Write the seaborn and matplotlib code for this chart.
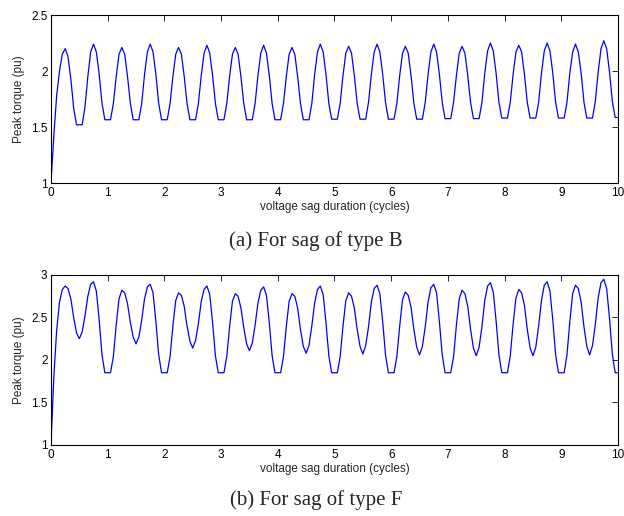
import numpy as np
import pandas as pd
import matplotlib
matplotlib.use("Agg")
import matplotlib.pyplot as plt
import seaborn as sns

sns.set_style("white")
plt.rcParams.update({
    "font.family": ["Liberation Sans", "DejaVu Sans"],
    "font.size": 8.5,
    "axes.linewidth": 0.8,
    "xtick.direction": "in",
    "ytick.direction": "in",
    "xtick.top": True,
    "ytick.right": True,
    "xtick.major.size": 4,
    "ytick.major.size": 4,
    "xtick.major.width": 0.6,
    "ytick.major.width": 0.6,
    "xtick.major.pad": 3,
    "ytick.major.pad": 2.5,
    "axes.edgecolor": "black",
    "xtick.color": "black",
    "ytick.color": "black",
})

# peak torque sampled every 0.05 cycle, one row per half cycle
torque_b = [
    1.00, 1.42, 1.78, 2.00, 2.15, 2.20, 2.13, 1.93, 1.67, 1.52,
    1.52, 1.52, 1.68, 1.95, 2.17, 2.24, 2.17, 1.97, 1.71, 1.565,
    1.565, 1.565, 1.71, 1.95, 2.15, 2.21, 2.15, 1.95, 1.71, 1.565,
    1.565, 1.565, 1.71, 1.97, 2.17, 2.24, 2.17, 1.97, 1.71, 1.565,
    1.565, 1.565, 1.71, 1.95, 2.15, 2.21, 2.15, 1.95, 1.71, 1.565,
    1.565, 1.565, 1.71, 1.96, 2.16, 2.23, 2.16, 1.96, 1.71, 1.565,
    1.565, 1.565, 1.71, 1.95, 2.15, 2.21, 2.15, 1.95, 1.71, 1.565,
    1.565, 1.565, 1.71, 1.96, 2.16, 2.23, 2.16, 1.96, 1.71, 1.565,
    1.565, 1.565, 1.71, 1.95, 2.15, 2.21, 2.15, 1.95, 1.71, 1.565,
    1.565, 1.565, 1.71, 1.97, 2.17, 2.24, 2.17, 1.97, 1.71, 1.57,
    1.57, 1.57, 1.71, 1.96, 2.16, 2.22, 2.16, 1.96, 1.71, 1.57,
    1.57, 1.57, 1.72, 1.97, 2.17, 2.24, 2.17, 1.97, 1.72, 1.57,
    1.57, 1.57, 1.71, 1.96, 2.16, 2.22, 2.16, 1.96, 1.71, 1.57,
    1.57, 1.57, 1.72, 1.97, 2.17, 2.24, 2.17, 1.97, 1.72, 1.575,
    1.575, 1.575, 1.72, 1.96, 2.16, 2.22, 2.16, 1.96, 1.72, 1.575,
    1.575, 1.575, 1.72, 1.98, 2.18, 2.25, 2.18, 1.98, 1.72, 1.58,
    1.58, 1.58, 1.72, 1.97, 2.17, 2.23, 2.17, 1.97, 1.72, 1.58,
    1.58, 1.58, 1.72, 1.98, 2.18, 2.25, 2.18, 1.98, 1.72, 1.58,
    1.58, 1.58, 1.72, 1.98, 2.17, 2.24, 2.17, 1.98, 1.72, 1.58,
    1.58, 1.58, 1.73, 1.99, 2.20, 2.27, 2.20, 1.99, 1.73, 1.585,
    1.585,
]

torque_f = [
    1.00, 1.80, 2.35, 2.68, 2.83, 2.87, 2.84, 2.72, 2.50, 2.32,
    2.25, 2.33, 2.52, 2.75, 2.89, 2.92, 2.81, 2.47, 2.06, 1.85,
    1.85, 1.85, 2.04, 2.41, 2.72, 2.82, 2.79, 2.66, 2.44, 2.27,
    2.19, 2.27, 2.47, 2.72, 2.86, 2.89, 2.79, 2.45, 2.06, 1.85,
    1.85, 1.85, 2.04, 2.40, 2.70, 2.79, 2.76, 2.63, 2.40, 2.22,
    2.14, 2.23, 2.43, 2.69, 2.83, 2.87, 2.77, 2.44, 2.05, 1.85,
    1.85, 1.85, 2.04, 2.39, 2.69, 2.78, 2.75, 2.61, 2.38, 2.19,
    2.11, 2.20, 2.41, 2.67, 2.82, 2.86, 2.76, 2.44, 2.05, 1.85,
    1.85, 1.85, 2.04, 2.39, 2.69, 2.78, 2.75, 2.61, 2.36, 2.16,
    2.08, 2.17, 2.40, 2.67, 2.83, 2.87, 2.77, 2.44, 2.05, 1.85,
    1.85, 1.85, 2.04, 2.40, 2.70, 2.79, 2.75, 2.61, 2.36, 2.16,
    2.07, 2.17, 2.39, 2.68, 2.84, 2.88, 2.78, 2.45, 2.06, 1.85,
    1.85, 1.85, 2.04, 2.40, 2.71, 2.80, 2.76, 2.62, 2.36, 2.15,
    2.06, 2.16, 2.39, 2.68, 2.85, 2.89, 2.79, 2.45, 2.06, 1.85,
    1.85, 1.85, 2.04, 2.41, 2.72, 2.82, 2.78, 2.63, 2.36, 2.14,
    2.05, 2.15, 2.39, 2.70, 2.87, 2.91, 2.80, 2.46, 2.06, 1.85,
    1.85, 1.85, 2.05, 2.42, 2.73, 2.83, 2.79, 2.64, 2.36, 2.14,
    2.05, 2.15, 2.40, 2.70, 2.88, 2.92, 2.81, 2.47, 2.06, 1.85,
    1.85, 1.85, 2.06, 2.45, 2.78, 2.88, 2.84, 2.68, 2.39, 2.16,
    2.06, 2.17, 2.42, 2.73, 2.91, 2.95, 2.84, 2.49, 2.07, 1.85,
    1.85,
]

sample_step = 0.05
duration = np.round(np.arange(len(torque_b)) * sample_step, 2)

x_ticks = list(range(0, 11))
y_ticks_b = [1, 1.5, 2, 2.5]
y_tick_labels_b = ["1", "1.5", "2", "2.5"]
y_ticks_f = [1, 1.5, 2, 2.5, 3]
y_tick_labels_f = ["1", "1.5", "2", "2.5", "3"]

captions = ["(a) For sag of type B", "(b) For sag of type F"]

fig = plt.figure(figsize=(6.24, 5.16), dpi=100)
ax_b = fig.add_axes([0.0817, 0.6453, 0.9087, 0.3256])
ax_f = fig.add_axes([0.0817, 0.1376, 0.9087, 0.3295])

panels = [
    (ax_b, torque_b, y_ticks_b, y_tick_labels_b),
    (ax_f, torque_f, y_ticks_f, y_tick_labels_f),
]

for ax, torque, yt, ytl in panels:
    df = pd.DataFrame({"duration": duration, "torque": torque})
    sns.lineplot(data=df, x="duration", y="torque", ax=ax,
                 color="#0000ff", linewidth=0.9, estimator=None)
    ax.set_xlim(0, 10)
    ax.set_ylim(yt[0], yt[-1])
    ax.set_xticks(x_ticks)
    ax.set_xticklabels([str(t) for t in x_ticks])
    ax.set_yticks(yt)
    ax.set_yticklabels(ytl)
    ax.set_xlabel("voltage sag duration (cycles)", labelpad=1.5)
    ax.set_ylabel("Peak torque (pu)", labelpad=4)
    for side in ax.spines.values():
        side.set_visible(True)
        side.set_linewidth(0.8)

fig.text(0.506, 1 - 241 / 516, captions[0], ha="center", va="center",
         family="Liberation Serif", fontsize=15)
fig.text(0.506, 1 - 500 / 516, captions[1], ha="center", va="center",
         family="Liberation Serif", fontsize=15)

fig.savefig("out.png", dpi=100)
